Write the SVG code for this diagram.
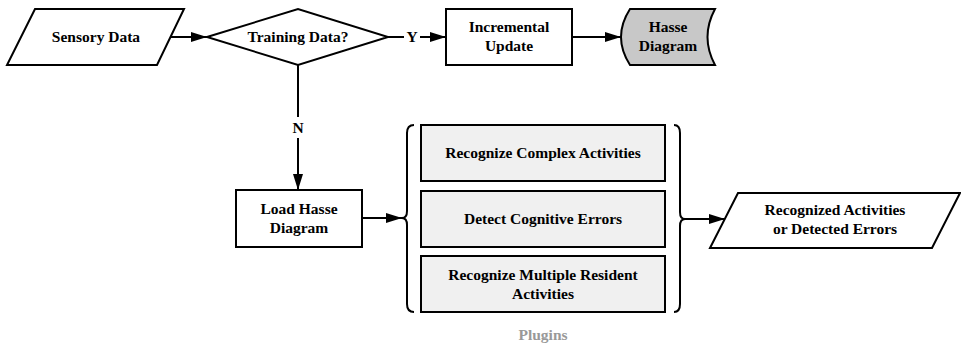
<svg xmlns="http://www.w3.org/2000/svg" width="961" height="345" viewBox="0 0 961 345">
<style>
.shape{stroke:#000;stroke-width:2;fill:#fff;stroke-linejoin:miter}
.plugin{stroke:#000;stroke-width:2;fill:#f0f0f0}
.store{stroke:#000;stroke-width:2;fill:#c8c8c8}
.t{font-family:"Liberation Serif","Times New Roman",serif;font-weight:bold;font-size:15.5px;fill:#000;text-anchor:middle}
.gray{fill:#999}
.conn{stroke:#000;stroke-width:2;fill:none}
</style>
<defs>
<marker id="arr" markerUnits="userSpaceOnUse" markerWidth="16" markerHeight="10" refX="16" refY="5" orient="auto">
<path d="M0,0 L16,5 L0,10 z" fill="#000"/>
</marker>
</defs>
<rect width="961" height="345" fill="#fff"/>
<g id="connectors">
<line class="conn" x1="171" y1="37" x2="207" y2="37" marker-end="url(#arr)"/>
<line class="conn" x1="388" y1="37" x2="404" y2="37"/>
<line class="conn" x1="420" y1="37" x2="446" y2="37" marker-end="url(#arr)"/>
<text class="t" x="412" y="42">Y</text>
<line class="conn" x1="572" y1="37" x2="621" y2="37" marker-end="url(#arr)"/>
<line class="conn" x1="298" y1="65" x2="298" y2="117"/>
<line class="conn" x1="298" y1="138" x2="298" y2="190" marker-end="url(#arr)"/>
<text class="t" x="298" y="133">N</text>
<line class="conn" x1="362" y1="218" x2="402" y2="218" marker-end="url(#arr)"/>
<line class="conn" x1="685" y1="219" x2="725" y2="219" marker-end="url(#arr)"/>
</g>
<g id="sensory">
<polygon class="shape" points="35,9 184,9 157,65 7,65"/>
<text class="t" x="96" y="42">Sensory Data</text>
</g>
<g id="training">
<polygon class="shape" points="207,37 298,9 388,37 298,65"/>
<text class="t" x="298" y="42">Training Data?</text>
</g>
<g id="incremental">
<rect class="shape" x="446" y="9" width="126" height="56"/>
<text class="t" x="509" y="32">Incremental</text>
<text class="t" x="509" y="51">Update</text>
</g>
<g id="hasse">
<path class="store" d="M630,9 L715,9 Q700,37 715,65 L630,65 Q612,37 630,9 Z"/>
<text class="t" x="668" y="32">Hasse</text>
<text class="t" x="668" y="51">Diagram</text>
</g>
<g id="load">
<rect class="shape" x="236" y="190" width="126" height="57"/>
<text class="t" x="299" y="214">Load Hasse</text>
<text class="t" x="299" y="233">Diagram</text>
</g>
<g id="plugins">
<path class="conn" d="M414,125 Q407,125 407,133 L407,211 Q407,218 402,218 Q407,218 407,225 L407,304 Q407,312 414,312"/>
<path class="conn" d="M674,125 Q680,125 680,133 L680,212 Q680,219 685,219 Q680,219 680,226 L680,304 Q680,312 674,312"/>
<g id="plugin1">
<rect class="plugin" x="421" y="125" width="244" height="56"/>
<text class="t" x="543" y="158">Recognize Complex Activities</text>
</g>
<g id="plugin2">
<rect class="plugin" x="421" y="191" width="244" height="56"/>
<text class="t" x="543" y="224">Detect Cognitive Errors</text>
</g>
<g id="plugin3">
<rect class="plugin" x="421" y="256" width="244" height="56"/>
<text class="t" x="543" y="280">Recognize Multiple Resident</text>
<text class="t" x="543" y="299">Activities</text>
</g>
<text class="t gray" x="543" y="340">Plugins</text>
</g>
<g id="output">
<polygon class="shape" points="738,193 960,193 932,248 710,248"/>
<text class="t" x="835" y="215">Recognized Activities</text>
<text class="t" x="835" y="234">or Detected Errors</text>
</g>
</svg>
